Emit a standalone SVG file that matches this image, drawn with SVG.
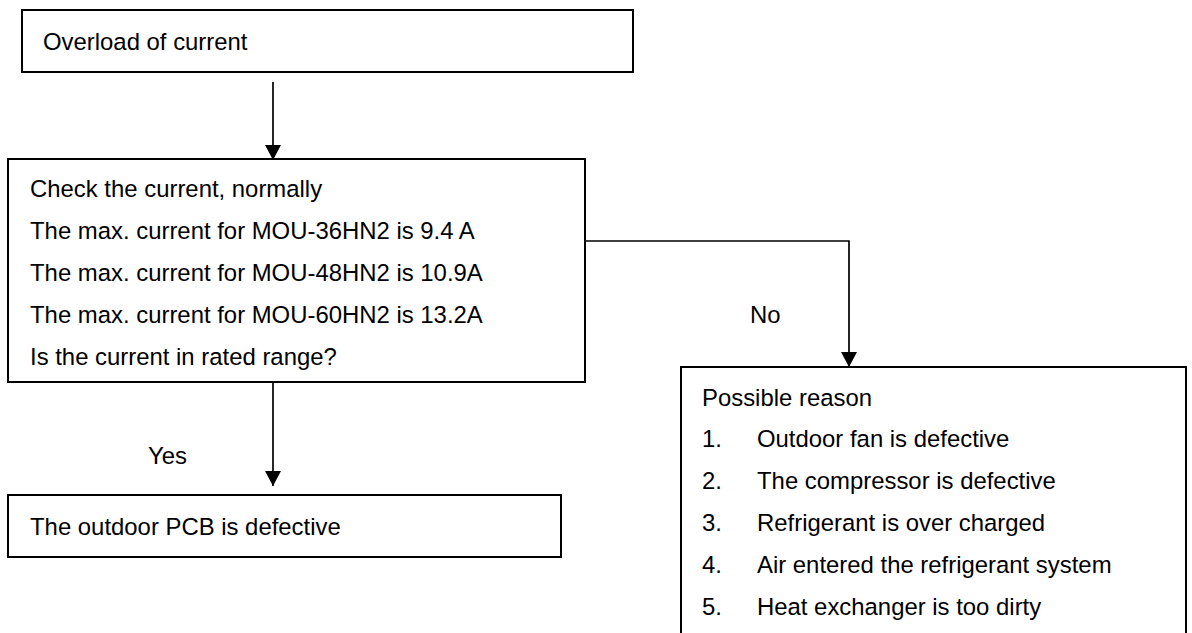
<svg xmlns="http://www.w3.org/2000/svg" width="1192" height="633" viewBox="0 0 1192 633">
  <style>
    .box { fill: #ffffff; stroke: #000000; stroke-width: 2; }
    .txt { font-family: "Liberation Sans", Arial, sans-serif; font-size: 23.9px; fill: #000000; }
    .link { fill: none; stroke: #000000; stroke-width: 1.7; }
  </style>
  <defs>
    <marker id="arrow" markerUnits="userSpaceOnUse" markerWidth="16" markerHeight="16" viewBox="0 0 16 16" refX="15" refY="8" orient="auto">
      <path d="M0,0 L15,8 L0,16 Z" fill="#000000"/>
    </marker>
  </defs>

  <rect width="1192" height="633" fill="#ffffff"/>

  <!-- connectors -->
  <g id="connectors">
    <line class="link" x1="273" y1="82" x2="273" y2="160" marker-end="url(#arrow)"/>
    <line class="link" x1="273" y1="383" x2="273" y2="486" marker-end="url(#arrow)"/>
    <polyline class="link" points="585,241 849,241 849,367" marker-end="url(#arrow)"/>
    <text class="txt" x="148" y="464">Yes</text>
    <text class="txt" x="750" y="323">No</text>
  </g>

  <!-- start -->
  <g id="overload">
    <rect class="box" x="22" y="10" width="611" height="62"/>
    <text class="txt" x="43" y="50">Overload of current</text>
  </g>

  <!-- current check -->
  <g id="check-current">
    <rect class="box" x="8" y="159" width="577" height="223"/>
    <text class="txt" x="30" y="197">Check the current, normally</text>
    <text class="txt" x="30" y="239">The max. current for MOU-36HN2 is 9.4 A</text>
    <text class="txt" x="30" y="281">The max. current for MOU-48HN2 is 10.9A</text>
    <text class="txt" x="30" y="323">The max. current for MOU-60HN2 is 13.2A</text>
    <text class="txt" x="30" y="365">Is the current in rated range?</text>
  </g>

  <!-- yes branch -->
  <g id="pcb-defective">
    <rect class="box" x="8" y="495" width="553" height="62"/>
    <text class="txt" x="30" y="535">The outdoor PCB is defective</text>
  </g>

  <!-- no branch -->
  <g id="possible-reason">
    <rect class="box" x="681" y="367" width="505" height="300"/>
    <text class="txt" x="702" y="406">Possible reason</text>
    <text class="txt" x="702" y="447">1.</text>
    <text class="txt" x="757" y="447">Outdoor fan is defective</text>
    <text class="txt" x="702" y="489">2.</text>
    <text class="txt" x="757" y="489">The compressor is defective</text>
    <text class="txt" x="702" y="531">3.</text>
    <text class="txt" x="757" y="531">Refrigerant is over charged</text>
    <text class="txt" x="702" y="573">4.</text>
    <text class="txt" x="757" y="573">Air entered the refrigerant system</text>
    <text class="txt" x="702" y="615">5.</text>
    <text class="txt" x="757" y="615">Heat exchanger is too dirty</text>
  </g>
</svg>
